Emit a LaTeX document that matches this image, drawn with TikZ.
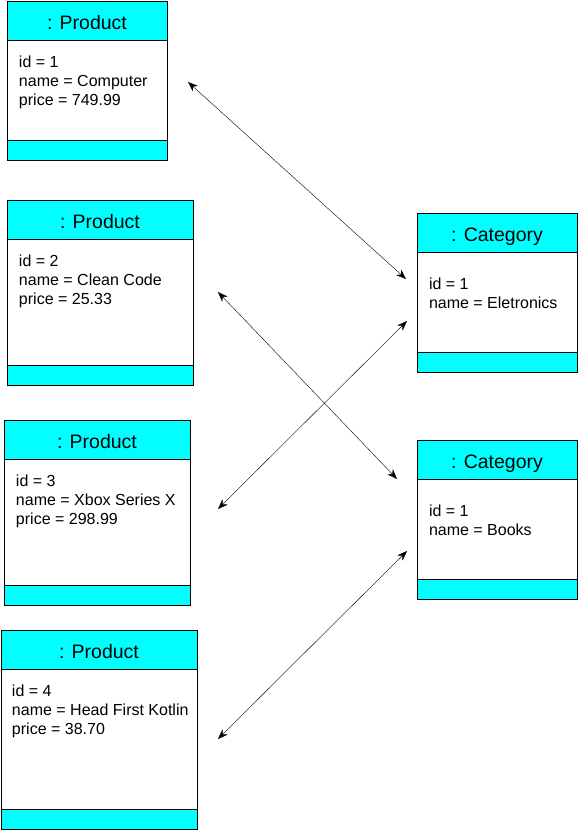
\documentclass[tikz,border=0pt]{standalone}
\usepackage{fontspec}
\setmainfont{Liberation Sans}
\usepackage{tikz}
\usetikzlibrary{arrows.meta, positioning}
\definecolor{headcyan}{RGB}{0,255,255}

\begin{document}
\begin{tikzpicture}[x=1pt,y=-1pt,<->,>={Stealth[length=10pt,width=7.5pt]},thin]
                \tikzset{every node/.style={outer sep=0pt},
                  objhead/.style={draw, thick, fill=headcyan, inner sep=0pt, font=\fontsize{19.5}{23}\selectfont, text height=17pt, text depth=0pt, anchor=north west, minimum height=39.5pt},
                  objbody/.style={draw, thick, fill=white, inner sep=0pt, below=0pt of #1},
                  objfoot/.style={draw, thick, fill=headcyan, inner sep=0pt, minimum height=20pt, below=0pt of #1},
                  attrs/.style={align=left, inner sep=0pt, font=\fontsize{16}{19}\selectfont, below right=15pt and 12pt of #1}}
                \useasboundingbox (0,0) rectangle (578,836);
                % products
                \node[objhead, minimum width=160pt] (P1) at (7,1) {: Product};
                \node[objbody=P1, minimum width=160pt, minimum height=100pt] (P1b) {};
                \node[objfoot=P1b, minimum width=160pt] (P1f) {};
                \node[attrs=P1b.north west] (P1t) {id = 1\\name = Computer\\price = 749.99};
                \node[objhead, minimum width=186pt] (P2) at (7,200) {: Product};
                \node[objbody=P2, minimum width=186pt, minimum height=126pt] (P2b) {};
                \node[objfoot=P2b, minimum width=186pt] (P2f) {};
                \node[attrs=P2b.north west] (P2t) {id = 2\\name = Clean Code\\price = 25.33};
                \node[objhead, minimum width=186pt] (P3) at (4,420) {: Product};
                \node[objbody=P3, minimum width=186pt, minimum height=126pt] (P3b) {};
                \node[objfoot=P3b, minimum width=186pt] (P3f) {};
                \node[attrs=P3b.north west] (P3t) {id = 3\\name = Xbox Series X\\price = 298.99};
                \node[objhead, minimum width=196pt] (P4) at (1,630) {: Product};
                \node[objbody=P4, minimum width=196pt, minimum height=140pt] (P4b) {};
                \node[objfoot=P4b, minimum width=196pt] (P4f) {};
                \node[attrs=P4b.north west, xshift=-1pt] (P4t) {id = 4\\name = Head First Kotlin\\price = 38.70};
                % categories
                \node[objhead, minimum width=160pt] (C1) at (417,213) {: Category};
                \node[objbody=C1, minimum width=160pt, minimum height=100pt] (C1b) {};
                \node[objfoot=C1b, minimum width=160pt] (C1f) {};
                \node[attrs=C1b.north west, yshift=-10pt] (C1t) {id = 1\\name = Eletronics};
                \node[objhead, minimum width=160pt] (C2) at (417,440) {: Category};
                \node[objbody=C2, minimum width=160pt, minimum height=100pt] (C2b) {};
                \node[objfoot=C2b, minimum width=160pt] (C2f) {};
                \node[attrs=C2b.north west, yshift=-10pt] (C2t) {id = 1\\name = Books};
                % link ends
                \coordinate (P1e) at (188,82);
                \coordinate (P2e) at (218,292);
                \coordinate (P3e) at (218,509);
                \coordinate (P4e) at (218,739);
                \coordinate (C1a) at (406,279);
                \coordinate (C1c) at (407,321);
                \coordinate (C2a) at (397,479);
                \coordinate (C2c) at (407,551);
                \draw (P1e) -- (C1a);
                \draw (P2e) -- (C2a);
                \draw (P3e) -- (C1c);
                \draw (P4e) -- (C2c);
            \end{tikzpicture}
\end{document}
